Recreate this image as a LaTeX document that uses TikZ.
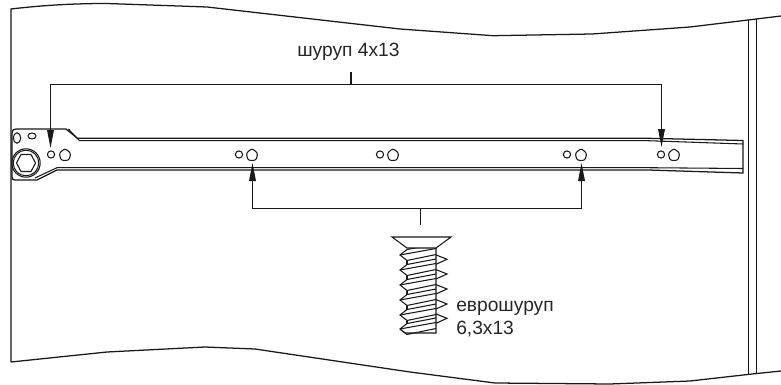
\documentclass[tikz,border=0pt]{standalone}
\usepackage{fontspec}
\setmainfont{Liberation Sans}
\usetikzlibrary{arrows.meta}
\tikzset{
  outline/.style={line width=0.95pt, draw=black!90},
  thinline/.style={line width=0.8pt, draw=black!90},
  leader/.style={line width=0.8pt, draw=black!90},
  pointer/.style={leader, -{Triangle[length=13.5pt,width=5pt]}},
  caption/.style={font=\fontsize{14.4pt}{17pt}\selectfont, inner sep=0pt, align=left, text=black!85}
}
\newcommand{\railhole}[2] {\draw [thinline] (#1,#2) circle [radius=3.6];}
\newcommand{\railholebig}[2] {\draw [thinline, rounded corners=1.6pt] (#1,#2-6.5) -- (#1+5.8,#2-1.8) -- (#1+4,#2+5.3) -- (#1-4,#2+5.3) -- (#1-5.8,#2-1.8) -- cycle;}
\newcommand{\screwthread}[1] {
  \draw [thinline] (407,#1-5.5) -- (400,#1) -- (407,#1+5.5);
  \draw [thinline] (407,#1-5.5) -- (436,#1-11);
  \draw [thinline] (400,#1) -- (436,#1-6.5);
  \draw [thinline] (407,#1+5.5) -- (436,#1-0.5);
}
\newcommand{\screwtooth}[1] {\draw [thinline] (436,#1-4.4) -- (447,#1) -- (436,#1+5);}

\begin{document}
\begin{tikzpicture}[x=0.75pt,y=-0.75pt]
\useasboundingbox (0,0) rectangle (781,385);

% sheet edges
\draw [outline] (11,362) -- (11,9) .. controls (45,5) and (75,3.5) .. (107,3.5)
  -- (207,7) -- (400,29) -- (493,35.7) -- (592,34) -- (690,27) -- (748,20) -- (781,16);
\draw [outline] (11,362) -- (107,352) -- (205,347) -- (255,349) -- (410,372) -- (495,383)
  -- (610,384) -- (690,381) -- (752,374) -- (781,371);
\draw [thinline] (748.5,20) -- (748.5,374);
\draw [thinline] (756.5,19) -- (756.5,373);

% rail
\draw [outline] (66,129) -- (16.5,129) .. controls (13.5,129) and (12,130) .. (12,133) -- (12,177)
  .. controls (12,179) and (13,180) .. (15,180) -- (37,180) -- (57,170) -- (648,170)
  -- (743,173) -- (743,140.5) -- (648,138.3) -- (77.5,138.3) -- cycle;
\draw [thinline] (68.3,129) -- (79.5,140.7) -- (648,140.7) -- (743,144);
\draw [thinline] (35,178) -- (57,167.7) -- (648,167.7) -- (743,168.5);

% holes
\draw [thinline] (17,138) ellipse [x radius=3.7, y radius=5.2];
\draw [thinline] (32,136) ellipse [x radius=4, y radius=3];
\draw [thinline] (26,163) circle [radius=14.2];
\draw [thinline] (26,163) circle [radius=12.8];
\draw [thinline] (35.5,163) -- (31,171.5) -- (21,171.5) -- (16.5,163) -- (21,154.5) -- (31,154.5) -- cycle;
\railhole{51}{154.5}
\railholebig{65}{155}
\railhole{239}{154.5}
\railholebig{252}{155}
\railhole{380}{154.5}
\railholebig{393}{155}
\railhole{567}{154.5}
\railholebig{581}{155}
\railhole{661}{154.5}
\railholebig{674}{155}

% upper leader
\node [caption, anchor=base west] (topLabel) at (297,57) {шуруп 4х13};
\coordinate (topMid) at (351,72);
\coordinate (topBar) at (351,84.5);
\coordinate (topLeft) at (50.5,148);
\coordinate (topRight) at (661.5,147);
\draw [leader] (topMid) -- (topBar);
\draw [pointer] (topBar) -| (topLeft);
\draw [pointer] (topBar) -| (topRight);

% lower leader
\coordinate (lowMid) at (420.5,225);
\coordinate (lowBar) at (420.5,208.5);
\coordinate (lowLeft) at (252.5,163);
\coordinate (lowRight) at (581.5,163);
\draw [leader] (lowMid) -- (lowBar);
\draw [pointer] (lowBar) -| (lowLeft);
\draw [pointer] (lowBar) -| (lowRight);

% screw
\draw [thinline] (392,237) -- (451,237) -- (436,248) -- (407,248) -- cycle;
\draw [thinline] (436,248) -- (436,333) -- (405,333) -- (400,329);
\begin{scope}
\clip (390,248) rectangle (460,340);
\foreach \ypos in {255,270,285,300,315,329} {
  \screwthread{\ypos}
}
\end{scope}
\foreach \ypos in {259.3,274,289,304,318.3} {
  \screwtooth{\ypos}
}
\foreach \ytop/\ybot in {260.5/264.5,275.5/279.5,290.5/294.5,305.5/309.5,320.5/323.5} {
  \draw [thinline] (407,\ytop) -- (407,\ybot);
}

\node [caption, anchor=base west] (screwName) at (456,311.5) {еврошуруп};
\node [caption, anchor=base west] (screwSize) at (456,334) {6,3х13};
\end{tikzpicture}
\end{document}
